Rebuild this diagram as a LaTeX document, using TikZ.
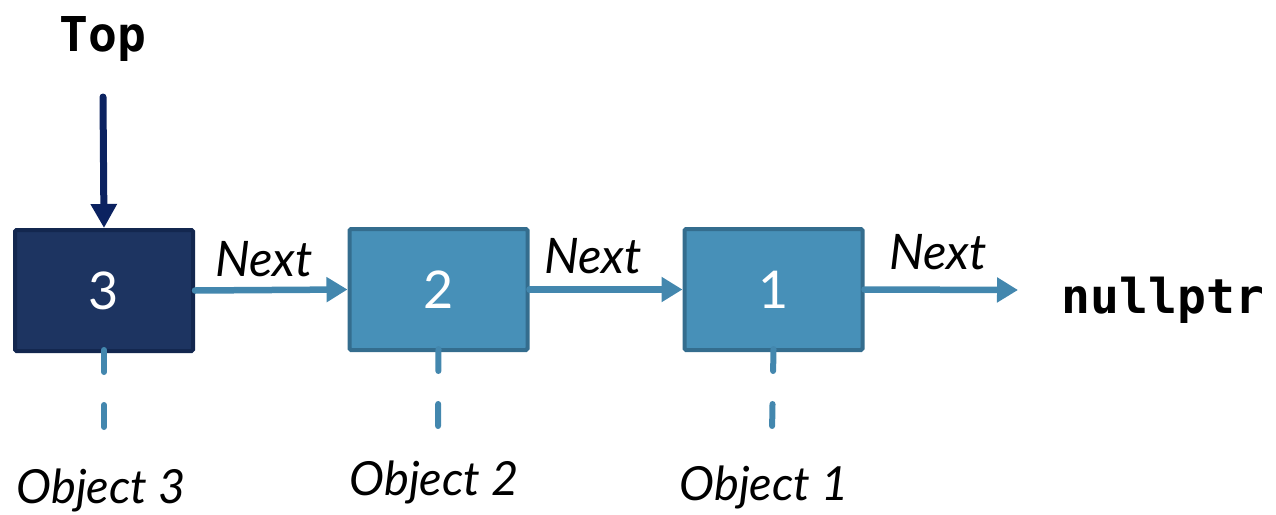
\documentclass[tikz,border=0pt]{standalone}
\usepackage{fontspec}
\setmainfont{Lato}
\setmonofont{DejaVu Sans Mono}
\usetikzlibrary{arrows.meta}

\definecolor{navyfill}{HTML}{1D3461}
\definecolor{navyline}{HTML}{13274F}
\definecolor{bluefill}{HTML}{4790B8}
\definecolor{blueline}{HTML}{346D8E}
\definecolor{linkcol}{HTML}{4387AE}
\definecolor{topcol}{HTML}{0B2260}

\tikzset{
  cell/.style={draw, line width=4pt, rounded corners=1.5pt,
    minimum width=178pt, minimum height=121pt, inner sep=0pt,
    text=white, font=\fontsize{52}{52}\selectfont},
  topcell/.style={cell, fill=navyfill, draw=navyline},
  listcell/.style={cell, fill=bluefill, draw=blueline},
  link/.style={draw=linkcol, line width=6.5pt, line cap=round,
    -{Triangle[width=24pt,length=21pt]}},
  toplink/.style={draw=topcol, line width=7pt, line cap=round,
    -{Triangle[width=25pt,length=24pt]}},
  nextlbl/.style={font=\fontsize{49}{49}\selectfont\itshape, anchor=base},
  objlbl/.style={font=\fontsize{47}{47}\selectfont\itshape, anchor=base},
  codelbl/.style={font=\ttfamily\bfseries\fontsize{48}{48}\selectfont, anchor=base},
  tether/.style={draw=linkcol, line width=6pt, line cap=round,
    dash pattern=on 22pt off 33pt}
}

\begin{document}
\begin{tikzpicture}[x=1pt, y=-1pt]
  \useasboundingbox (0,0) rectangle (1276,514);

  % list cells
  \node[topcell]  (n3) at (104,290.5) {3};
  \node[listcell] (n2) at (438.5,289.5) {2};
  \node[listcell] (n1) at (773.5,289.5) {1};

  % head pointer
  \node[codelbl] (top) at (103,51) {Top};
  \coordinate (topstart) at (103,97);
  \draw[toplink] (topstart) -- (n3.north);

  % next pointers
  \coordinate (nullend) at (1018,290);
  \draw[link] (n3.east) -- (n2.west);
  \draw[link] (n2.east) -- (n1.west);
  \draw[link] (n1.east) -- (nullend);

  \node[nextlbl] (lbl3) at (264,276) {Next};
  \node[nextlbl] (lbl2) at (593,273) {Next};
  \node[nextlbl] (lbl1) at (938,269) {Next};

  \node[codelbl] (null) at (1163,313) {nullptr};

  % object tethers and captions
  \coordinate (t3) at (104,433);
  \coordinate (t2) at (438,432);
  \coordinate (t1) at (772,432);
  \draw[tether] ([yshift=3pt]n3.south) -- (t3);
  \draw[tether] ([yshift=3pt]n2.south) -- (t2);
  \draw[tether] ([yshift=3pt]n1.south) -- (t1);

  \node[objlbl] (o3) at (101,503) {Object 3};
  \node[objlbl] (o2) at (434,495) {Object 2};
  \node[objlbl] (o1) at (764,500) {Object 1};
\end{tikzpicture}
\end{document}
